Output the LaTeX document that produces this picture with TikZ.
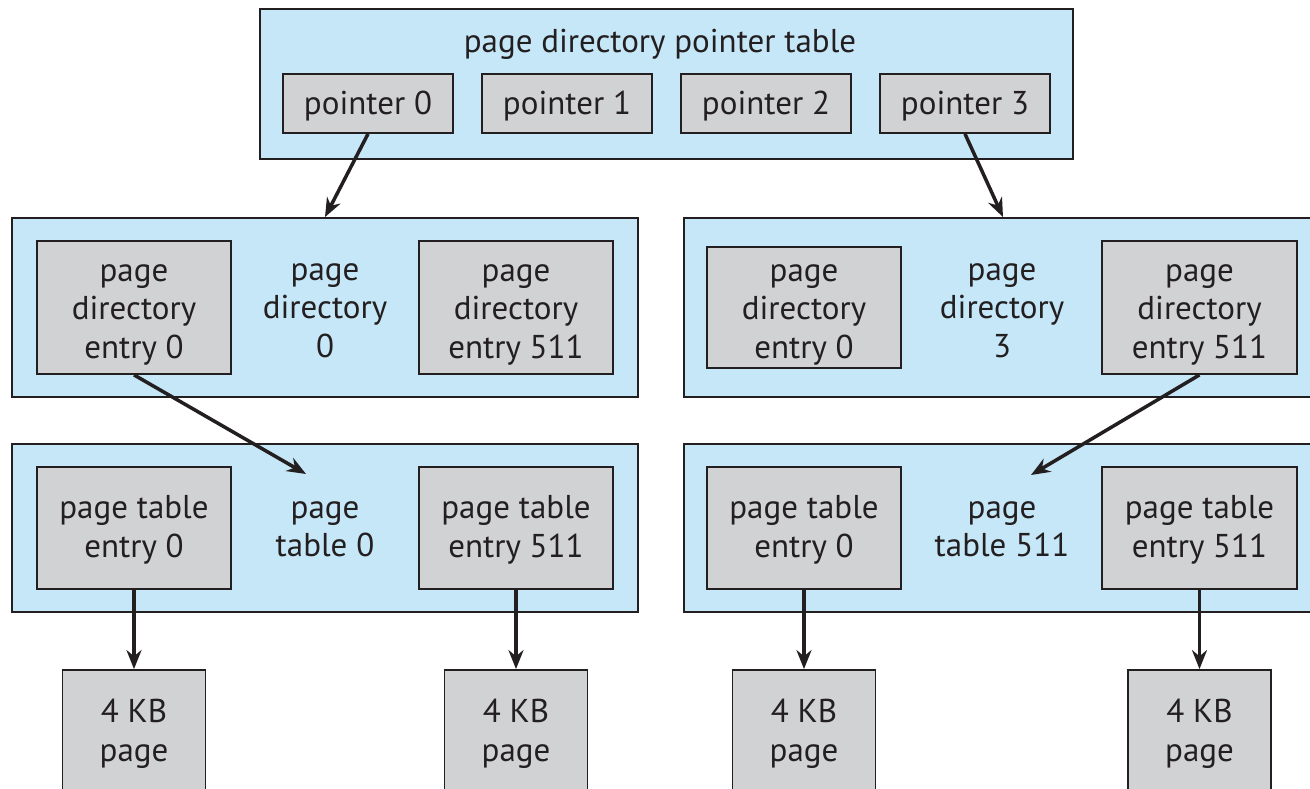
\documentclass[tikz,border=0pt]{standalone}
\usepackage{fontspec}
\setmainfont{PT Sans}
\usetikzlibrary{arrows.meta}
\definecolor{tablefill}{RGB}{197,231,247}
\definecolor{entryfill}{RGB}{209,210,212}
\definecolor{edgecol}{RGB}{35,31,32}
\begin{document}
\begin{tikzpicture}[x=1pt, y=-1pt, table node/.style={rectangle,draw=edgecol,fill=tablefill,line width=1.8pt,inner sep=0pt},entry node/.style={rectangle,draw=edgecol,fill=entryfill,line width=1.8pt,inner sep=0pt},label node/.style={align=center,inner sep=0pt},ptr/.style={-{Stealth[length=19pt,width=15pt]},line width=3.5pt,draw=edgecol}]%
\useasboundingbox (0,0) rectangle (1310,789);
\clip (0,0) rectangle (1310,789);
\begin{scope}[every node/.style={font=\fontsize{33}{38.5}\selectfont,text=edgecol}]
\node[table node,minimum width=813,minimum height=150] (pdpt) at (666.5,84) {};
\node[label node] (pdptlab) at (660,44) {page directory pointer table};
\node[entry node,minimum width=170,minimum height=59,text height=23,text depth=0] (ptr0) at (368,103.5) {pointer 0};
\node[entry node,minimum width=170,minimum height=59,text height=23,text depth=0] (ptr1) at (567,103.5) {pointer 1};
\node[entry node,minimum width=170,minimum height=59,text height=23,text depth=0] (ptr2) at (766,103.5) {pointer 2};
\node[entry node,minimum width=170,minimum height=59,text height=23,text depth=0] (ptr3) at (965,103.5) {pointer 3};
% page directories
\node[table node,minimum width=626,minimum height=179] (pd0) at (325,307.5) {};
\node[table node,minimum width=638,minimum height=179] (pd3) at (1003,307.5) {};
\node[entry node,minimum width=194,minimum height=133] (pde0a) at (134,307.5) {};
\node[entry node,minimum width=194,minimum height=133] (pde511a) at (516,307.5) {};
\node[entry node,minimum width=194,minimum height=121] (pde0b) at (804,307.5) {};
\node[entry node,minimum width=195,minimum height=133] (pde511b) at (1199.5,307.5) {};
\node[label node] (pde0atxt) at (134,314.5) {page\\directory\\entry 0};
\node[label node] (pd0lab) at (325,310.5) {page\\directory\\0};
\node[label node] (pde511atxt) at (516,314.5) {page\\directory\\entry 511};
\node[label node] (pde0btxt) at (804,314.5) {page\\directory\\entry 0};
\node[label node] (pd3lab) at (1002,310.5) {page\\directory\\3};
\node[label node] (pde511btxt) at (1199.5,314.5) {page\\directory\\entry 511};
% page tables
\node[table node,minimum width=626,minimum height=168] (pt0) at (325,528) {};
\node[table node,minimum width=638,minimum height=168] (pt511) at (1003,528) {};
\node[entry node,minimum width=194,minimum height=122] (pte0a) at (134,528) {};
\node[entry node,minimum width=194,minimum height=122] (pte511a) at (516,528) {};
\node[entry node,minimum width=194,minimum height=122] (pte0b) at (804,528) {};
\node[entry node,minimum width=195,minimum height=122] (pte511b) at (1199.5,528) {};
\node[label node] (pte0atxt) at (134,530) {page table\\entry 0};
\node[label node] (pt0lab) at (325,529) {page\\table 0};
\node[label node] (pte511atxt) at (516,530) {page table\\entry 511};
\node[label node] (pte0btxt) at (804,530) {page table\\entry 0};
\node[label node] (pt511lab) at (1002,529) {page\\table 511};
\node[label node] (pte511btxt) at (1199.5,530) {page table\\entry 511};
% 4 KB pages
\node[entry node,minimum width=143,minimum height=120] (pg0a) at (134,730) {};
\node[entry node,minimum width=143,minimum height=120] (pg511a) at (516,730) {};
\node[entry node,minimum width=143,minimum height=120] (pg0b) at (804,730) {};
\node[entry node,minimum width=143,minimum height=120] (pg511b) at (1199.5,730) {};
\node[label node] (pg0atxt) at (134,734) {4 KB\\page};
\node[label node] (pg511atxt) at (516,734) {4 KB\\page};
\node[label node] (pg0btxt) at (804,734) {4 KB\\page};
\node[label node] (pg511btxt) at (1199.5,734) {4 KB\\page};
%\node[entry node] () at (,) {};
\end{scope}
\coordinate (pt0in) at (306,474);
\coordinate (pt511in) at (1031,475);
\begin{scope}
\draw (ptr0.south) edge[ptr] (pd0.north);
\draw (ptr3.south) edge[ptr] (pd3.north);
\draw (pde0a.south) edge[ptr] (pt0in);
\draw (pde511b.south) edge[ptr] (pt511in);
\draw (pte0a.south) edge[ptr] (pg0a.north);
\draw (pte511a.south) edge[ptr] (pg511a.north);
\draw (pte0b.south) edge[ptr] (pg0b.north);
\draw (pte511b.south) edge[ptr] (pg511b.north);
%\draw (a) edge[ptr] (b);
\end{scope}
\end{tikzpicture}
\end{document}
